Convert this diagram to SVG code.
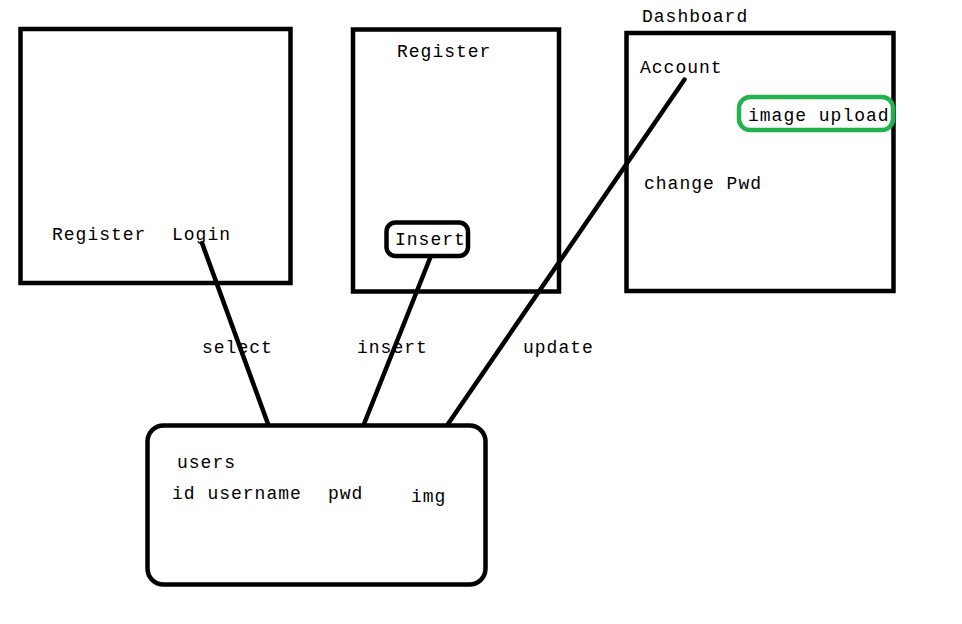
<svg xmlns="http://www.w3.org/2000/svg" width="962" height="624" viewBox="0 0 962 624">
<style>
.box{fill:none;stroke:#000;stroke-width:4.5}
.line{stroke:#000;stroke-width:4.5;stroke-linecap:round;fill:none}
text{font-family:"Liberation Mono","DejaVu Sans Mono",monospace;font-size:18px;letter-spacing:1px;fill:#000}
</style>
<rect width="962" height="624" fill="#fff"/>
<g id="connectors">
<line class="line" x1="202" y1="243" x2="268" y2="424"/>
<line class="line" x1="430.5" y1="257" x2="364" y2="424"/>
<line class="line" x1="684.5" y1="79.5" x2="448" y2="424"/>
<text x="202" y="353">select</text>
<text x="357" y="353">insert</text>
<text x="523" y="353">update</text>
</g>
<g id="login-page">
<rect class="box" x="20.5" y="29" width="270" height="254"/>
<text x="52" y="240">Register</text>
<text x="172" y="240">Login</text>
</g>
<g id="register-page">
<rect class="box" x="353" y="29.5" width="206" height="262"/>
<text x="397" y="57">Register</text>
</g>
<g id="insert-button">
<rect class="box" x="386.5" y="222.5" width="81.5" height="33.5" rx="9"/>
<text x="395" y="245">Insert</text>
</g>
<g id="dashboard">
<rect class="box" x="626.5" y="33" width="267" height="258"/>
<text x="642" y="22">Dashboard</text>
<text x="640" y="73">Account</text>
<text x="644" y="189">change Pwd</text>
</g>
<g id="image-upload">
<rect x="739" y="97" width="154" height="33" rx="11" fill="none" stroke="#22b14c" stroke-width="4.5"/>
<text x="748" y="121">image upload</text>
</g>
<g id="users-table">
<rect class="box" x="147.5" y="425.5" width="338" height="159" rx="16"/>
<text x="177" y="468">users</text>
<text x="172" y="499">id username</text>
<text x="328" y="499">pwd</text>
<text x="411" y="502">img</text>
</g>
</svg>
